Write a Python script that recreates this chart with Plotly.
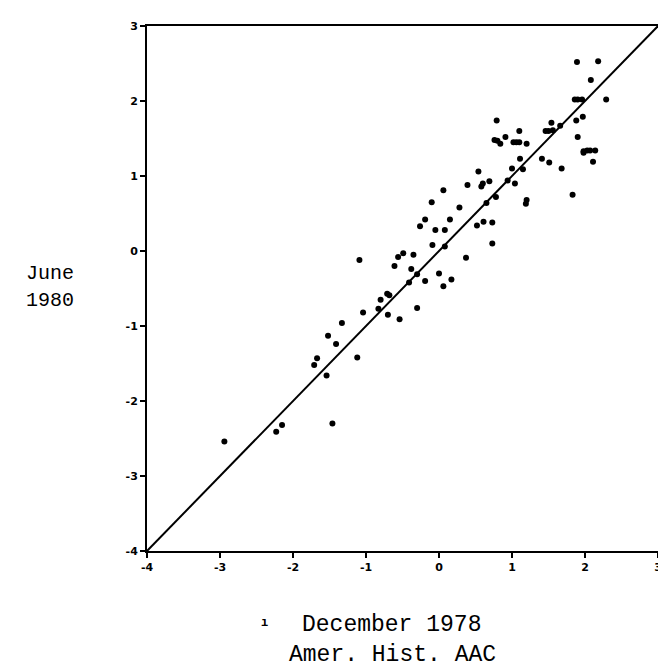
import plotly.graph_objects as go

# Scatter data (December 1978 vs June 1980)
dec_1978 = [-2.94, -2.23, -2.15, -1.46, -1.54, -1.71, -1.67, -1.52, -1.41, -1.12, -1.33,
            -1.09, -1.04, -0.83, -0.80, -0.71, -0.68, -0.70, -0.54, -0.61, -0.56, -0.49,
            -0.35, -0.38, -0.41, -0.30, -0.30, -0.19, -0.09, 0.00, 0.06, 0.17, 0.08,
            -0.05, 0.08, -0.26, -0.19, -0.10, 0.06, 0.15, 0.28, 0.37, 0.39, 0.54, 0.58,
            0.60, 0.69, 0.52, 0.61, 0.73, 0.73, 0.65, 0.78, 0.79, 0.76, 0.84, 0.91, 1.02,
            1.06, 1.10, 1.20, 1.10, 0.94, 1.04, 1.00, 1.11, 1.15, 1.20, 1.19, 1.41, 1.51,
            1.68, 1.54, 1.46, 1.50, 1.56, 1.66, 1.83, 1.86, 1.90, 1.96, 1.88, 1.97, 1.90,
            1.98, 2.03, 2.07, 2.14, 2.11, 2.29, 1.89, 2.18, 2.08, 0.80, 1.98]
jun_1980 = [-2.54, -2.41, -2.32, -2.30, -1.66, -1.52, -1.43, -1.13, -1.24, -1.42, -0.96,
            -0.12, -0.82, -0.77, -0.65, -0.57, -0.59, -0.85, -0.91, -0.20, -0.08, -0.03,
            -0.05, -0.24, -0.42, -0.31, -0.76, -0.40, 0.08, -0.30, -0.47, -0.38, 0.06,
            0.28, 0.28, 0.33, 0.42, 0.65, 0.81, 0.42, 0.58, -0.09, 0.88, 1.06, 0.86,
            0.90, 0.93, 0.34, 0.39, 0.38, 0.10, 0.64, 0.72, 1.74, 1.48, 1.43, 1.52, 1.45,
            1.45, 1.45, 1.43, 1.60, 0.94, 0.90, 1.10, 1.23, 1.09, 0.68, 0.63, 1.23, 1.18,
            1.10, 1.71, 1.60, 1.60, 1.61, 1.67, 0.75, 2.02, 2.02, 2.02, 1.74, 1.79, 1.52,
            1.31, 1.34, 1.34, 1.34, 1.19, 2.02, 2.52, 2.53, 2.28, 1.47, 1.33]

line_x = [-4, 3]
line_y = [-4, 3]

tick_vals = [-4, -3, -2, -1, 0, 1, 2, 3]
x_tick_text = ["<b>-4</b>", "<b>-3</b>", "<b>-2</b>", "<b>-1</b>", "<b>0</b>", "<b>1</b>", "<b>2</b>", "<b>3</b>"]
y_tick_text = ["<b>-4</b>", "<b>-3</b>", "<b>-2</b>", "<b>-1</b>", "<b>0</b>", "<b>1</b>", "<b>2</b>", "<b>3</b>"]

fig = go.Figure()
fig.add_trace(go.Scatter(x=line_x, y=line_y, mode="lines",
                         line=dict(color="black", width=2), hoverinfo="skip"))
fig.add_trace(go.Scatter(x=dec_1978, y=jun_1980, mode="markers",
                         marker=dict(color="black", size=6, line=dict(width=0))))

axis_common = dict(range=[-4, 3], showgrid=False, zeroline=False, showline=True,
                   linecolor="black", linewidth=2, mirror=True, ticks="outside",
                   ticklen=5, tickwidth=2, tickcolor="black", tickvals=tick_vals,
                   tickfont=dict(family="DejaVu Sans", size=11, color="black"))

fig.update_xaxes(**axis_common, ticktext=x_tick_text)
fig.update_yaxes(**axis_common, ticktext=y_tick_text)

mono = "Liberation Mono, Courier New, monospace"
annotations = [
    dict(text="June", x=68, y=263, xanchor="right", yanchor="middle", font=dict(size=20, family=mono)),
    dict(text="1980", x=68, y=290, xanchor="right", yanchor="middle", font=dict(size=20, family=mono)),
    dict(text="December 1978", x=384, y=618, xanchor="center", yanchor="middle", font=dict(size=23, family=mono)),
    dict(text="Amer. Hist. AAC", x=385, y=648, xanchor="center", yanchor="middle", font=dict(size=23, family=mono)),
    dict(text="<b>ı</b>", x=257, y=616, xanchor="center", yanchor="middle", font=dict(size=12, family=mono)),
]
for a in annotations:
    fig.add_annotation(text=a["text"], x=a["x"], y=a["y"], xref="paper", yref="paper",
                       xanchor=a["xanchor"], yanchor=a["yanchor"], showarrow=False,
                       font=dict(color="black", **a["font"]))

# convert pixel positions of annotations to paper coordinates
W, H = 666, 667
L, R, T, B = 139, 15, 13, 124
pw, ph = W - L - R, H - T - B
for ann in fig.layout.annotations:
    px, py = ann.x, ann.y
    ann.x = (px - L) / pw
    ann.y = 1 - (py - T) / ph

fig.update_layout(width=W, height=H, margin=dict(l=L, r=R, t=T, b=B),
                  paper_bgcolor="white", plot_bgcolor="white", showlegend=False)

fig.write_html("out.html")
